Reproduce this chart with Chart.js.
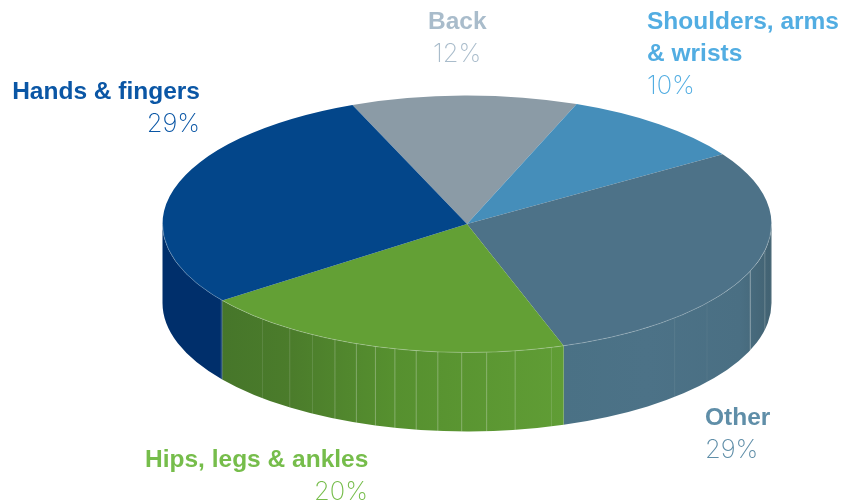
<!DOCTYPE html>
<html><head><meta charset="utf-8">
<style>html,body{margin:0;padding:0;background:#fff}#w{width:843px;height:504px;position:relative}</style>
<script src="https://cdn.jsdelivr.net/npm/chart.js@4"></script>
</head><body><div id="w"><canvas id="c" width="843" height="504"></canvas></div>
<script>
const categories = ['Back', 'Shoulders, arms & wrists', 'Other', 'Hips, legs & ankles', 'Hands & fingers'];
const values = [12, 10, 29, 20, 29];
const topColors = ['#8b9ba6', '#458eba', '#4d7288', '#63a035', '#03468a'];
const textColors = ['#a9bccb', '#52ade2', '#5f8ea8', '#76bd4b', '#0a56a5'];

const SQUASH = 128.5 / 304.5, DEPTH = 79, RAD = Math.PI / 180;
// wall look: gradient stops (x fraction across the whole pie) and facet seams
const wallStops = {
  2: [[0.0, '#4a7185'], [0.4, '#4c7287'], [0.85, '#4a6f83'], [1, '#426272']],
  3: [[0.0, '#46762a'], [0.2, '#4b7c2b'], [0.5, '#56902f'], [1, '#609d35']],
  4: [[0, '#002f6b'], [1, '#002f6b']]
};
// angle from straight-down on the front of the drum (degrees, + = right) and seam alpha
const seams = [[-53.8,.25],[-42.2,.12],[-35.6,.16],[-30.5,.14],[-25.7,.26],[-21.3,.32],[-17.5,.32],[-13.7,.32],[-9.6,.32],[-5.5,.32],[-1,.32],[3.7,.32],[9.1,.28],[16.1,.16],[43,.08],[52,.06],[68.5,.42],[78,.25],[87,.1]];

const label = {
  place: [
    [['Back'], 'left', 428, 29, 'left', 433],
    [['Shoulders, arms', '& wrists'], 'left', 647, 29, 'left', 647],
    [['Other'], 'left', 705, 425, 'left', 705],
    [['Hips, legs & ankles'], 'left', 145, 467, 'right', 368],
    [['Hands & fingers'], 'right', 200, 99, 'right', 200]
  ]
};
const BOLD = 'bold 24.5px "Liberation Sans"', LIGHT = '250 25.5px Inter';

const drum = {
  id: 'drum',
  beforeDatasetsDraw(chart) {
    const ctx = chart.ctx, arcs = chart.getDatasetMeta(0).data;
    const cx = arcs[0].x, cy = arcs[0].y, R = arcs[0].outerRadius, ry = R * SQUASH;
    arcs.forEach((a, i) => {
      const s = Math.max(a.startAngle, 0), e = Math.min(a.endAngle, Math.PI);
      if (e <= s) return;
      const g = ctx.createLinearGradient(cx + R * Math.cos(e), 0, cx + R * Math.cos(s), 0);
      (wallStops[i] || [[0, '#000'], [1, '#000']]).forEach(p => g.addColorStop(p[0], p[1]));
      ctx.beginPath();
      ctx.ellipse(cx, cy, R, ry, 0, s, e);
      ctx.ellipse(cx, cy + DEPTH, R, ry, 0, e, s, true);
      ctx.closePath();
      ctx.fillStyle = g;
      ctx.fill();
    });
    ctx.lineWidth = 1;
    seams.forEach(p => {
      const t = p[0] * RAD, x = cx + R * Math.sin(t), y = cy + ry * Math.cos(t);
      ctx.strokeStyle = 'rgba(235,240,235,' + p[1] + ')';
      ctx.beginPath();
      ctx.moveTo(x, y);
      ctx.lineTo(x, y + DEPTH);
      ctx.stroke();
    });
    ctx.save();
    ctx.translate(cx, cy);
    ctx.scale(1, SQUASH);
    ctx.translate(-cx, -cy);
  },
  afterDatasetsDraw(chart) {
    const ctx = chart.ctx, arcs = chart.getDatasetMeta(0).data;
    ctx.restore();
    const cx = arcs[0].x, cy = arcs[0].y, R = arcs[0].outerRadius, ry = R * SQUASH;
    // light rim on the front edge
    ctx.strokeStyle = 'rgba(225,232,232,.4)';
    ctx.lineWidth = 0.7;
    ctx.beginPath();
    ctx.ellipse(cx, cy, R, ry, 0, 0, Math.PI);
    ctx.stroke();
    // text
    ctx.textBaseline = 'alphabetic';
    label.place.forEach((p, i) => {
      ctx.fillStyle = textColors[i];
      ctx.font = BOLD;
      ctx.textAlign = p[1];
      let y = p[3];
      p[0].forEach(line => { ctx.fillText(line, p[2], y); y += 32; });
      ctx.font = LIGHT;
      ctx.textAlign = p[4];
      ctx.fillText(values[i] + '%', p[5], y + 1);
    });
  }
};

new Chart(document.getElementById('c'), {
  type: 'pie',
  data: { labels: categories, datasets: [{
    data: values, backgroundColor: topColors, borderWidth: 0, radius: 304.5, clip: false
  }]},
  options: {
    responsive: false, animation: false, rotation: -22.1,
    layout: { padding: { left: 91, top: 0, right: 0, bottom: 56 } },
    plugins: { legend: { display: false }, tooltip: { enabled: false } }
  },
  plugins: [drum]
});
</script></body></html>
